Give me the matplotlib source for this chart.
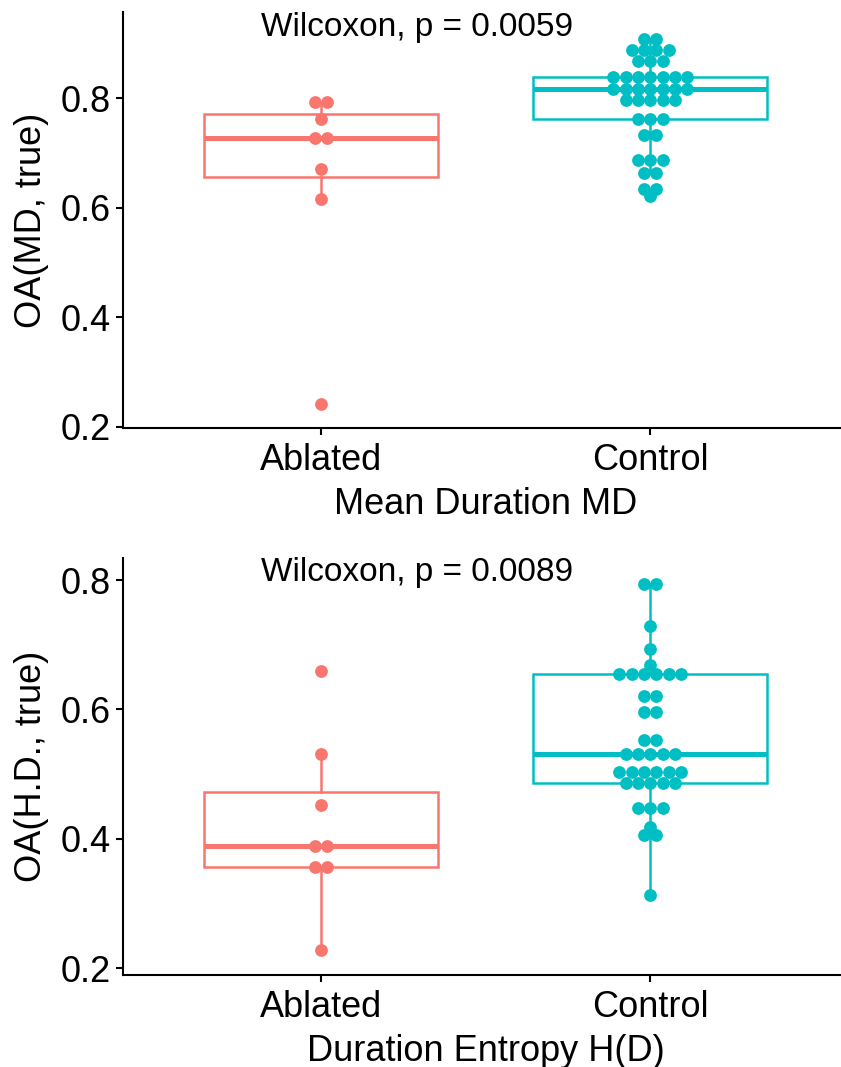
import numpy as np
import matplotlib
matplotlib.use("Agg")
import matplotlib.pyplot as plt

plt.rcParams['font.family'] = ['Liberation Sans', 'DejaVu Sans']

#### data ####
groups = ["Ablated", "Control"]
colors = ["#F8766D", "#00BFC4"]

# Mean Duration MD
md_ablated = [0.242, 0.616, 0.670, 0.727, 0.727, 0.763, 0.794, 0.794]
md_control = [0.622, 0.634, 0.634, 0.663, 0.663, 0.687, 0.687, 0.687,
              0.733, 0.733, 0.763, 0.763, 0.763,
              0.797, 0.797, 0.797, 0.797, 0.797,
              0.817, 0.817, 0.817, 0.817, 0.817, 0.817, 0.817,
              0.838, 0.838, 0.838, 0.838, 0.838, 0.838, 0.838,
              0.869, 0.869, 0.869, 0.888, 0.888, 0.888, 0.888,
              0.909, 0.909]
md_pvalue = "0.0059"

# Duration Entropy H(D)
hd_ablated = [0.228, 0.356, 0.356, 0.389, 0.389, 0.452, 0.531, 0.660]
hd_control = [0.313, 0.406, 0.406, 0.419, 0.447, 0.447, 0.447,
              0.486, 0.486, 0.486, 0.486, 0.486,
              0.504, 0.504, 0.504, 0.504, 0.504, 0.504,
              0.531, 0.531, 0.531, 0.531, 0.531,
              0.552, 0.552, 0.596, 0.596, 0.621, 0.621,
              0.655, 0.655, 0.655, 0.655, 0.655, 0.655,
              0.669, 0.694, 0.729, 0.794, 0.794]
hd_pvalue = "0.0089"

# spacing of the stacked dots (x units)
dot_step = 0.0374


#### panel drawing ####
def draw_panel(ax, data, ylabel, xlabel, pvalue, ylim, ytext):
    bp = ax.boxplot(data, positions=[1, 2], widths=0.71, whis=1.5,
                    showfliers=False, showcaps=False, patch_artist=True,
                    manage_ticks=False)
    for i, c in enumerate(colors):
        bp['boxes'][i].set(facecolor='white', edgecolor=c, linewidth=1.8)
        bp['medians'][i].set(color=c, linewidth=3.6, solid_capstyle='butt')
        for w in bp['whiskers'][2 * i:2 * i + 2]:
            w.set(color=c, linewidth=1.8)

    # dotplot: equal values are stacked side by side, centred on the group
    for i, vals in enumerate(data):
        v, counts = np.unique(vals, return_counts=True)
        for y, n in zip(v, counts):
            xs = i + 1 + (np.arange(n) - (n - 1) / 2) * dot_step
            ax.plot(xs, [y] * n, 'o', color=colors[i], ms=9.2, mew=0,
                    zorder=3, clip_on=False)

    ax.text(0.818, ytext, "Wilcoxon, p = " + pvalue, fontsize=24,
            ha='left', va='center')

    ax.set_xlim(0.4, 2.6)
    ax.set_ylim(*ylim)
    ax.set_xticks([1, 2])
    ax.set_xticklabels(groups)
    ax.set_yticks([0.2, 0.4, 0.6, 0.8])
    ax.set_yticklabels(["0.2", "0.4", "0.6", "0.8"])
    ax.set_ylabel(ylabel, fontsize=26, labelpad=8)
    ax.set_xlabel(xlabel, fontsize=26, labelpad=6)

    for s in ['top', 'right']:
        ax.spines[s].set_visible(False)
    for s in ['left', 'bottom']:
        ax.spines[s].set_linewidth(1.5)
    ax.tick_params(axis='both', direction='out', length=5, width=1.5,
                   labelsize=26, colors='black', pad=4)
    ax.tick_params(axis='x', pad=6)


fig = plt.figure(figsize=(8.41, 10.67), dpi=100)
ax1 = fig.add_axes([123 / 841, 1 - 428 / 1067, 725 / 841, 416 / 1067])
ax2 = fig.add_axes([123 / 841, 1 - 975 / 1067, 725 / 841, 417 / 1067])

draw_panel(ax1, [md_ablated, md_control], "OA(MD, true)",
           "Mean Duration MD", md_pvalue, (0.1978, 0.9576), 0.930)
draw_panel(ax2, [hd_ablated, hd_control], "OA(H.D., true)",
           "Duration Entropy H(D)", hd_pvalue, (0.1896, 0.834), 0.812)

fig.savefig("out.png", dpi=100)
